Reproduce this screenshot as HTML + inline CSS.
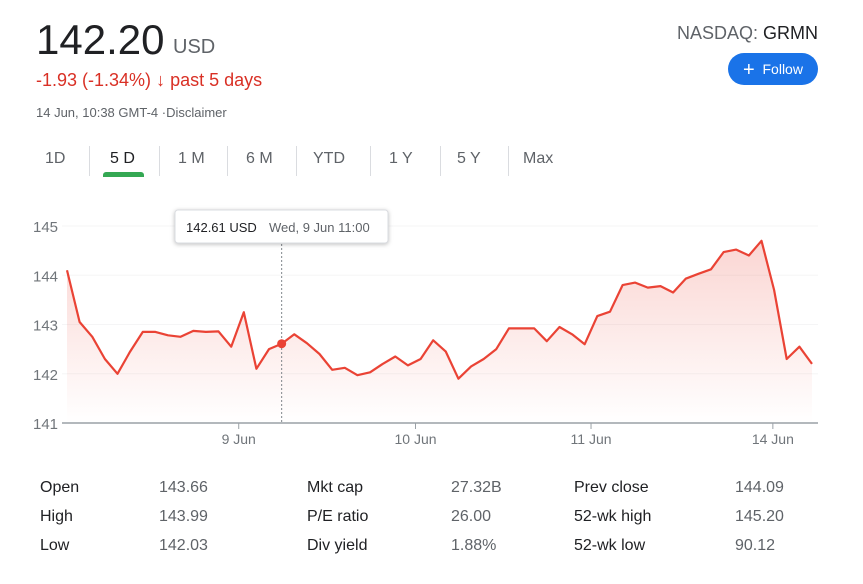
<!DOCTYPE html>
<html><head><meta charset="utf-8">
<style>
body{margin:0;width:863px;height:584px;background:#fff;font-family:"Liberation Sans",Arial,sans-serif;position:relative;overflow:hidden}
.a{position:absolute;white-space:nowrap}
.tab{position:absolute;top:150px;font-size:16px;color:#5f6368}
.sep{position:absolute;top:146px;width:1px;height:30px;background:#dadce0}
.st{position:absolute;font-size:16px;color:#202124}
.sv{position:absolute;font-size:16px;color:#5f6368}
</style></head><body>
<div class="a" style="left:36px;top:16px;font-size:42px;color:#202124">142.20</div>
<div class="a" style="left:173px;top:36px;font-size:20px;color:#5f6368">USD</div>
<div class="a" style="left:36px;top:70px;font-size:18px;color:#d93025">-1.93 (-1.34%) <b style="font-size:18px">↓</b> past 5 days</div>
<div class="a" style="left:36px;top:105px;font-size:13px;color:#5f6368">14 Jun, 10:38 GMT-4 ·Disclaimer</div>
<div class="a" style="right:45px;top:23px;font-size:18px;color:#5f6368">NASDAQ: <span style="color:#202124">GRMN</span></div>
<div class="a" style="left:728px;top:53px;width:90px;height:32px;border-radius:16px;background:#1a73e8;color:#fff;font-size:14px;line-height:32px;text-align:center"><span style="font-size:20px;vertical-align:-2px">+</span>&nbsp; Follow</div>
<div class="tab" style="left:45px">1D</div>
<div class="sep" style="left:89px"></div>
<div class="tab" style="left:110px;color:#202124">5 D</div>
<div class="a" style="left:103px;top:172px;width:41px;height:5px;background:#34a853;border-radius:3px 3px 0 0"></div>
<div class="sep" style="left:159px"></div>
<div class="tab" style="left:178px">1 M</div>
<div class="sep" style="left:227px"></div>
<div class="tab" style="left:246px">6 M</div>
<div class="sep" style="left:296px"></div>
<div class="tab" style="left:313px">YTD</div>
<div class="sep" style="left:370px"></div>
<div class="tab" style="left:389px">1 Y</div>
<div class="sep" style="left:440px"></div>
<div class="tab" style="left:457px">5 Y</div>
<div class="sep" style="left:508px"></div>
<div class="tab" style="left:523px">Max</div>

<svg id="chart" width="863" height="584" style="position:absolute;left:0;top:0">
<defs><linearGradient id="g" x1="0" y1="0" x2="0" y2="1"><stop offset="0" stop-color="#ea4335" stop-opacity="0.22"/><stop offset="1" stop-color="#ea4335" stop-opacity="0"/></linearGradient></defs>
</svg>

<div class="st" style="left:40px;top:479px">Open</div><div class="sv" style="left:159px;top:479px">143.66</div>
<div class="st" style="left:40px;top:508px">High</div><div class="sv" style="left:159px;top:508px">143.99</div>
<div class="st" style="left:40px;top:537px">Low</div><div class="sv" style="left:159px;top:537px">142.03</div>
<div class="st" style="left:307px;top:479px">Mkt cap</div><div class="sv" style="left:451px;top:479px">27.32B</div>
<div class="st" style="left:307px;top:508px">P/E ratio</div><div class="sv" style="left:451px;top:508px">26.00</div>
<div class="st" style="left:307px;top:537px">Div yield</div><div class="sv" style="left:451px;top:537px">1.88%</div>
<div class="st" style="left:574px;top:479px">Prev close</div><div class="sv" style="left:735px;top:479px">144.09</div>
<div class="st" style="left:574px;top:508px">52-wk high</div><div class="sv" style="left:735px;top:508px">145.20</div>
<div class="st" style="left:574px;top:537px">52-wk low</div><div class="sv" style="left:735px;top:537px">90.12</div>

<script>
const prices=[144.1,143.05,142.75,142.3,142.0,142.45,142.85,142.85,142.78,142.75,142.87,142.85,142.86,142.55,143.25,142.1,142.5,142.61,142.8,142.62,142.4,142.08,142.12,141.97,142.03,142.2,142.35,142.17,142.3,142.68,142.45,141.9,142.15,142.3,142.5,142.92,142.92,142.92,142.66,142.95,142.8,142.6,143.17,143.26,143.8,143.85,143.75,143.78,143.65,143.93,144.03,144.12,144.47,144.52,144.4,144.7,143.7,142.3,142.55,142.2];
const yTicks=[141,142,143,144,145];
const xTickLabels=["9 Jun","10 Jun","11 Jun","14 Jun"];
const xTickIdx=[13.6,27.6,41.5,55.9];
const hoverIdx=17;
const hoverText=["142.61 USD","Wed, 9 Jun 11:00"];
const NS="http://www.w3.org/2000/svg";
const svg=document.getElementById('chart');
const X0=67,X1=812,Y0=423,Y1=226;
const x=i=>X0+(X1-X0)*i/(prices.length-1);
const y=v=>Y0-(v-141)/(145-141)*(Y0-Y1);
function mk(t,a){const e=document.createElementNS(NS,t);for(const k in a)e.setAttribute(k,a[k]);svg.appendChild(e);return e;}
yTicks.forEach(t=>{
 const l=mk('line',{x1:62,x2:818,y1:y(t),y2:y(t),stroke:t===141?'#9aa0a6':'#f5f5f6','stroke-width':t===141?1.5:1});
 
 
 const tx=mk('text',{x:33,y:y(t)+6,'font-size':15,fill:'#70757a','font-family':'Liberation Sans, sans-serif'});
 tx.textContent=t;
 
 
});
xTickIdx.forEach((i,k)=>{
 const l=mk('line',{x1:x(i),x2:x(i),y1:Y0,y2:Y0+6,stroke:'#9aa0a6'});
 
 
 const tx=mk('text',{x:x(i),y:Y0+21,'font-size':14,fill:'#70757a','text-anchor':'middle','font-family':'Liberation Sans, sans-serif'});
 tx.textContent=xTickLabels[k];
 
 
});
let d=prices.map((v,i)=>(i?'L':'M')+x(i).toFixed(1)+','+y(v).toFixed(1)).join('');
const area=mk('path',{d:d+'L'+x(prices.length-1)+','+Y0+'L'+X0+','+Y0+'Z',fill:'url(#g)'});


const line=mk('path',{d:d,fill:'none',stroke:'#ea4335','stroke-width':2.2,'stroke-linejoin':'round'});


const hx=x(hoverIdx);
const cl=mk('line',{x1:hx,x2:hx,y1:244,y2:Y0,stroke:'#80868b','stroke-dasharray':'2,2'});


const dot=mk('circle',{cx:hx,cy:y(prices[hoverIdx]),r:4.5,fill:'#ea4335'});


const box=mk('rect',{x:175,y:210,width:213,height:33,rx:3,fill:'#fff',stroke:'#dadce0',style:'filter:drop-shadow(0 1px 2px rgba(0,0,0,.25))'});


const t1=mk('text',{x:186,y:232,'font-size':13,fill:'#202124','font-family':'Liberation Sans, sans-serif'});
t1.textContent=hoverText[0];


const t2=mk('text',{x:269,y:232,'font-size':13,fill:'#5f6368','font-family':'Liberation Sans, sans-serif'});
t2.textContent=hoverText[1];


</script>
</body></html>
